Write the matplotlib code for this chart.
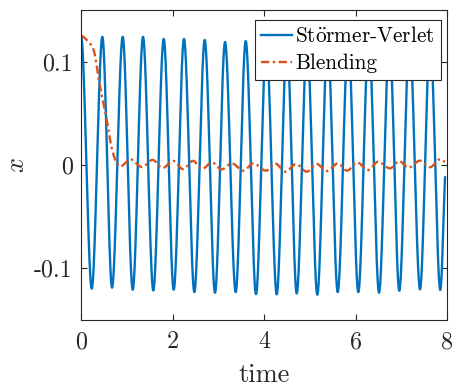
import numpy as np
import matplotlib.pyplot as plt

# values
# Stormer-Verlet: maxima and minima (time, x)
sv_peak_t = [0.0, 0.466, 0.911, 1.355, 1.808, 2.251, 2.704, 3.148, 3.600,
             4.05, 4.50, 4.94, 5.39, 5.84, 6.29, 6.74, 7.18, 7.63]
sv_peak_x = [0.125, 0.124, 0.124, 0.124, 0.122, 0.122, 0.121, 0.119, 0.120,
             0.119, 0.119, 0.120, 0.121, 0.122, 0.123, 0.123, 0.124, 0.124]
sv_trough_t = [0.234, 0.678, 1.130, 1.580, 2.026, 2.477, 2.929, 3.381, 3.825,
               4.278, 4.715, 5.165, 5.611, 6.061, 6.514, 6.957, 7.410, 7.853]
sv_trough_x = [-0.1197, -0.1187, -0.1207, -0.1214, -0.1207, -0.1230, -0.1236, -0.1230, -0.1250,
               -0.1252, -0.1243, -0.1255, -0.1230, -0.1230, -0.1236, -0.1217, -0.1204, -0.1210]
sv_end_t = 7.956
sv_end_x = -0.012

# Blending: the drop at the start, then its small wiggle (time, x)
bl_t = [0.0, 0.125, 0.269, 0.415, 0.562, 0.667, 0.79, 0.85,
        1.082, 1.333, 1.563, 1.781, 2.011, 2.230, 2.448, 2.645, 2.857, 3.075,
        3.294, 3.548, 3.766, 4.044, 4.240, 4.470, 4.699, 4.933, 5.152, 5.370,
        5.617, 5.814, 6.033, 6.273, 6.492, 6.754, 6.951, 7.158, 7.410, 7.628,
        7.847, 7.956]
bl_x = [0.125, 0.121, 0.112, 0.076, 0.044, 0.017, 0.001, -0.0016,
        0.0055, -0.002, 0.005, -0.003, 0.004, -0.004, 0.004, -0.004, 0.0026, -0.0042,
        0.0016, -0.0055, 0.0016, -0.0055, 0.0016, -0.0065, 0.001, -0.0065, 0.001, -0.0058,
        0.0016, -0.0055, 0.0026, -0.0049, 0.0032, -0.0032, 0.0039, -0.0026, 0.0042, -0.0022,
        0.0055, 0.003]

x_ticks = [0, 2, 4, 6, 8]
y_ticks = [-0.1, 0, 0.1]
y_ticklabels = ['-0.1', '0', '0.1']
legend_labels = ['St$\\ddot{\\mathrm{o}}$rmer-Verlet', 'Blending']


def pchip(xk, yk, xs):
    # monotone cubic through the read points (flat at the extrema)
    xk = np.asarray(xk, float)
    yk = np.asarray(yk, float)
    h = np.diff(xk)
    d = np.diff(yk) / h
    m = np.zeros_like(yk)
    for i in range(1, len(xk) - 1):
        if d[i - 1] * d[i] > 0:
            w1 = 2 * h[i] + h[i - 1]
            w2 = h[i] + 2 * h[i - 1]
            m[i] = (w1 + w2) / (w1 / d[i - 1] + w2 / d[i])
    m[-1] = d[-1]
    k = np.clip(np.searchsorted(xk, xs) - 1, 0, len(h) - 1)
    s = (xs - xk[k]) / h[k]
    h00 = 2 * s**3 - 3 * s**2 + 1
    h10 = s**3 - 2 * s**2 + s
    h01 = -2 * s**3 + 3 * s**2
    h11 = s**3 - s**2
    return h00 * yk[k] + h10 * h[k] * m[k] + h01 * yk[k + 1] + h11 * h[k] * m[k + 1]


# put maxima and minima in time order
sv_t = np.ravel(np.column_stack([sv_peak_t, sv_trough_t]))
sv_x = np.ravel(np.column_stack([sv_peak_x, sv_trough_x]))
sv_t = np.append(sv_t, sv_end_t)
sv_x = np.append(sv_x, sv_end_x)

t = np.linspace(0, sv_end_t, 4000)
x_sv = pchip(sv_t, sv_x, t)
x_bl = pchip(bl_t, bl_x, t)

plt.rcParams['font.family'] = 'cmr10'
plt.rcParams['mathtext.fontset'] = 'cm'
plt.rcParams['axes.unicode_minus'] = False

fig = plt.figure(figsize=(4.58, 3.88), dpi=100)
ax = fig.add_axes([0.1769, 0.1753, 0.7991, 0.7989])

ax.plot(t, x_sv, color='#0072BD', lw=1.7, label=legend_labels[0])
ax.plot(t, x_bl, color='#D95319', lw=1.7, dashes=(3.5, 1.5, 1, 1.5), label=legend_labels[1])

ax.set_xlim(0, 8)
ax.set_ylim(-0.15, 0.15)
ax.set_xticks(x_ticks)
ax.set_xticklabels([str(v) for v in x_ticks])
ax.set_yticks(y_ticks)
ax.set_yticklabels(y_ticklabels)

axcol = '#262626'
for sp in ax.spines.values():
    sp.set_color(axcol)
    sp.set_linewidth(0.8)
ax.tick_params(direction='in', length=4, width=0.8, color=axcol, labelcolor=axcol,
               labelsize=17.3, top=True, right=True, pad=6)
ax.tick_params(axis='x', pad=8)

ax.set_xlabel('time', fontsize=19, color=axcol, labelpad=7)
ax.set_ylabel('$x$', fontsize=19, color=axcol, labelpad=4)

leg = ax.legend(loc='upper right', bbox_to_anchor=(0.9836, 0.9677), fontsize=15.3,
                fancybox=False, framealpha=1, edgecolor=axcol, handlelength=1.45,
                handletextpad=0.15, borderaxespad=0, borderpad=0.3, labelspacing=0.35)
leg.get_frame().set_linewidth(0.8)

fig.savefig('out.png', dpi=100)
